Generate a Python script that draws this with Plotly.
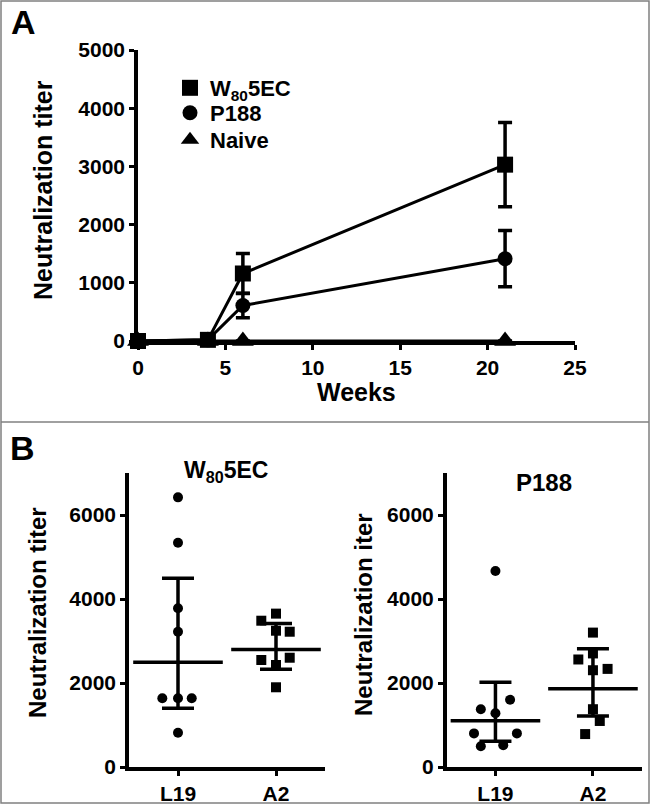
import plotly.graph_objects as go

W, H = 653, 806

# ---------------- data ----------------
weeks = [0, 4, 6, 21]
w805_mean = [0, 20, 1160, 3030]
w805_err = [0, 0, 345, 725]
p188_mean = [0, 20, 610, 1414]
p188_err = [0, 0, 210, 483]
naive_mean = [0, 0, 0, 0]
naive_err = [0, 0, 0, 0]

groups = ["L19", "A2"]
w805_L19 = [6420, 5340, 3780, 3220, 1635, 1635, 1635, 817]
w805_L19_jit = [0, 0, 0, 0, -0.16, 0, 0.14, 0]
w805_A2 = [3652, 3483, 3245, 3221, 2548, 2602, 2429, 1898]
w805_A2_jit = [0, -0.15, 0, 0.14, -0.15, 0.14, 0, 0]
w805_med = [2492, 2800]
w805_q3 = [4492, 3419]
w805_q1 = [1397, 2326]

p188_L19 = [4666, 1600, 1376, 1280, 800, 800, 496, 520]
p188_L19_jit = [0, 0.15, -0.15, 0, -0.22, 0.22, -0.15, 0.08]
p188_A2 = [3200, 2560, 2704, 2304, 2336, 1376, 1096, 784]
p188_A2_jit = [0, -0.15, 0, 0, 0.15, 0, 0.07, -0.08]
p188_med = [1104, 1864]
p188_q3 = [2016, 2816]
p188_q1 = [616, 1216]

FONT = "Liberation Sans, Arial, sans-serif"
BLACK = "black"


def px(x):
    return x / W


def py(y):
    return 1 - y / H


fig = go.Figure()

# ---------------- Panel A ----------------
series = [
    ("Naive", naive_mean, naive_err, "triangle-up", 19, "legend3"),
    ("P188", p188_mean, p188_err, "circle", 15, "legend2"),
    ("W<sub>80</sub>5EC", w805_mean, w805_err, "square", 16, "legend"),
]
for name, vals, err, sym, size, lg in series:
    fig.add_trace(go.Scatter(
        x=weeks, y=vals, mode="lines+markers", xaxis="x", yaxis="y",
        line=dict(color=BLACK, width=3),
        marker=dict(symbol=sym, size=size, color=BLACK),
        error_y=dict(type="data", array=err, visible=True, color=BLACK,
                     thickness=3.5, width=7),
        cliponaxis=False, showlegend=False,
    ))
# legend-only entries (markers only)
for name, vals, err, sym, size, lg in reversed(series):
    fig.add_trace(go.Scatter(
        x=[None], y=[None], mode="markers", name=name, xaxis="x", yaxis="y",
        marker=dict(symbol=sym, size=size, color=BLACK), showlegend=True,
        legend=lg,
    ))

# ---------------- Panel B ----------------
def add_dot_panel(xa, ya, l19, l19j, a2, a2j, med, q3, q1):
    fig.add_trace(go.Scatter(
        x=[0 + j for j in l19j], y=l19, mode="markers", xaxis=xa, yaxis=ya,
        marker=dict(symbol="circle", size=10, color=BLACK),
        cliponaxis=False, showlegend=False))
    fig.add_trace(go.Scatter(
        x=[1 + j for j in a2j], y=a2, mode="markers", xaxis=xa, yaxis=ya,
        marker=dict(symbol="square", size=10, color=BLACK),
        cliponaxis=False, showlegend=False))
    fig.add_trace(go.Scatter(
        x=[0, 1], y=med, mode="markers", xaxis=xa, yaxis=ya,
        marker=dict(symbol="line-ew-open", size=64, color=BLACK,
                    line=dict(color=BLACK, width=3.5)),
        error_y=dict(type="data", symmetric=False,
                     array=[q3[i] - med[i] for i in range(2)],
                     arrayminus=[med[i] - q1[i] for i in range(2)],
                     color=BLACK, thickness=3.5, width=16),
        cliponaxis=False, showlegend=False))


add_dot_panel("x2", "y2", w805_L19, w805_L19_jit, w805_A2, w805_A2_jit,
              w805_med, w805_q3, w805_q1)
add_dot_panel("x3", "y3", p188_L19, p188_L19_jit, p188_A2, p188_A2_jit,
              p188_med, p188_q3, p188_q1)

tickfont = dict(family=FONT, size=21, color=BLACK, weight="bold")
axis_common = dict(showline=True, linecolor=BLACK, linewidth=3.5,
                   ticks="outside", ticklen=5, tickwidth=2.5, tickcolor=BLACK,
                   showgrid=False, zeroline=False, tickfont=tickfont,
                   layer="below traces")

legend_font = dict(family=FONT, size=22, color=BLACK, weight="bold")


def legend_at(y):
    return dict(x=px(170), y=py(y), xanchor="left", yanchor="middle",
                bgcolor="rgba(0,0,0,0)", font=legend_font, itemsizing="trace")


fig.update_layout(
    width=W, height=H,
    margin=dict(l=0, r=0, t=0, b=0, autoexpand=False),
    paper_bgcolor="white", plot_bgcolor="white",
    font=dict(family=FONT, color=BLACK),
    xaxis=dict(domain=[px(138), px(575)], range=[0, 25], tickvals=[0, 5, 10, 15, 20, 25],
               anchor="y", **axis_common),
    yaxis=dict(domain=[py(341), py(50)], range=[0, 5000],
               tickvals=[0, 1000, 2000, 3000, 4000, 5000], anchor="x", **axis_common),
    xaxis2=dict(domain=[px(129), px(325)], range=[-0.5, 1.5], tickvals=[0, 1],
                ticktext=groups, anchor="y2", **axis_common),
    yaxis2=dict(domain=[py(767), py(473)], range=[0, 7000],
                tickvals=[0, 2000, 4000, 6000], anchor="x2", **axis_common),
    xaxis3=dict(domain=[px(446.7), px(641.7)], range=[-0.5, 1.5], tickvals=[0, 1],
                ticktext=groups, anchor="y3", **axis_common),
    yaxis3=dict(domain=[py(767), py(473)], range=[0, 7000],
                tickvals=[0, 2000, 4000, 6000], anchor="x3", **axis_common),
    legend=legend_at(88),
    legend2=legend_at(113),
    legend3=legend_at(140),
    shapes=[
        dict(type="rect", xref="paper", yref="paper", x0=px(1), x1=px(649),
             y0=py(803), y1=py(1), line=dict(color="#808080", width=1.5)),
        dict(type="line", xref="paper", yref="paper", x0=px(1), x1=px(649),
             y0=py(422), y1=py(422), line=dict(color="#808080", width=1.5)),
    ],
)

title_font = dict(family=FONT, size=25, color=BLACK, weight="bold")
annotations = [
    dict(text="A", x=px(23), y=py(22), font=dict(family=FONT, size=34, color=BLACK, weight="bold")),
    dict(text="B", x=px(22), y=py(448), font=dict(family=FONT, size=34, color=BLACK, weight="bold")),
    dict(text="Neutralization titer", x=px(43), y=py(190), textangle=-90, font=title_font),
    dict(text="Weeks", x=px(357), y=py(392), font=title_font),
    dict(text="Neutralization titer", x=px(37), y=py(613), textangle=-90,
         font=dict(family=FONT, size=24, color=BLACK, weight="bold")),
    dict(text="Neutralization iter", x=px(363), y=py(615), textangle=-90,
         font=dict(family=FONT, size=24, color=BLACK, weight="bold")),
    dict(text="W<sub>80</sub>5EC", x=px(226), y=py(471), font=dict(family=FONT, size=23, color=BLACK, weight="bold")),
    dict(text="P188", x=px(544), y=py(482), font=dict(family=FONT, size=24, color=BLACK, weight="bold")),
]
for a in annotations:
    a.update(xref="paper", yref="paper", showarrow=False, xanchor="center", yanchor="middle")
fig.update_layout(annotations=annotations)

fig.write_html("out.html", config={"displayModeBar": False},
               post_script="document.body.style.margin='0px';document.body.style.overflow='hidden';")
